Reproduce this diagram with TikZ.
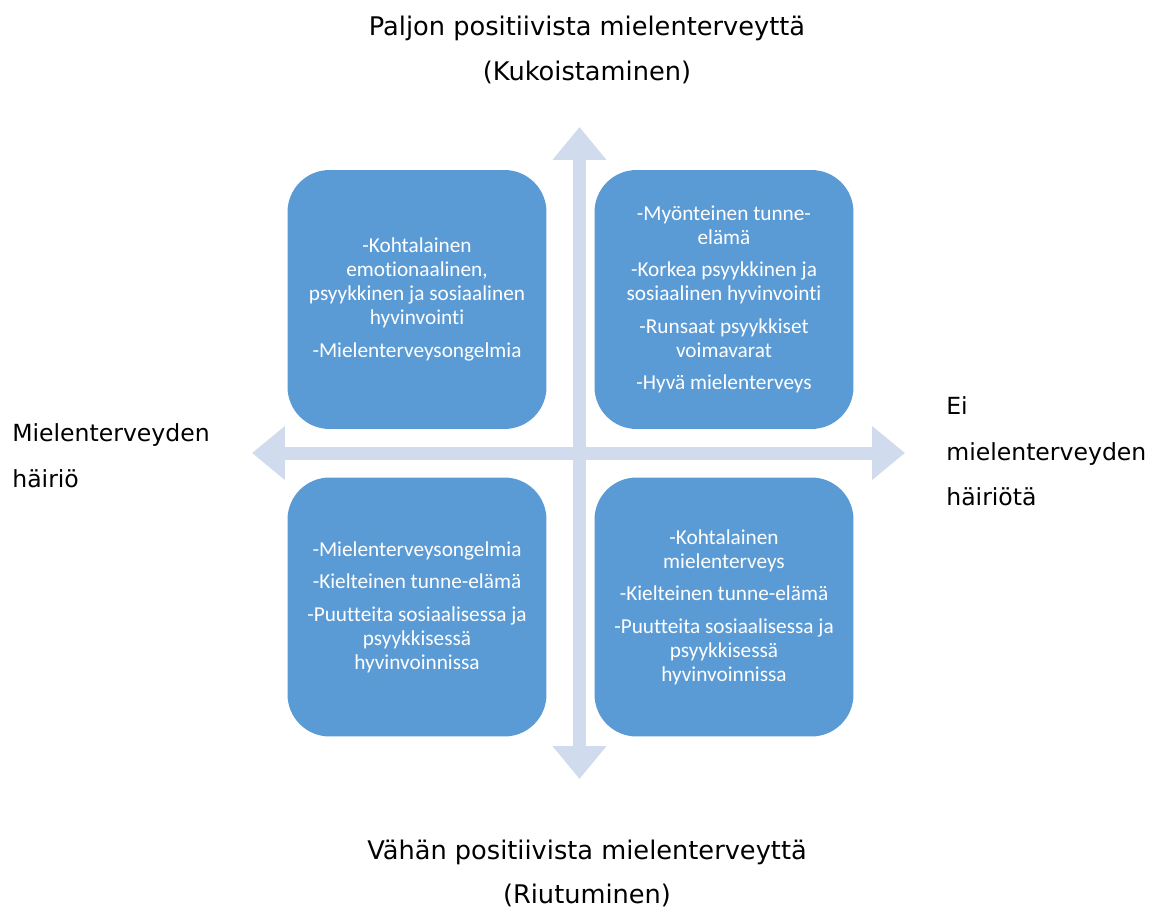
\documentclass[tikz,border=0pt]{standalone}
\usepackage{fontspec}
\setmainfont{DejaVu Sans}
\newfontfamily\boxfont[Ligatures=NoCommon]{Carlito}
\usetikzlibrary{arrows.meta,positioning}

\definecolor{quadblue}{HTML}{5B9BD5}
\definecolor{axisblue}{HTML}{D0DCEE}

\begin{document}
\begin{tikzpicture}[x=0.02cm,y=-0.02cm]
			\tikzstyle{axis}=[draw=axisblue,line width=0.26cm,{Triangle[length=0.66cm,width=1.04cm]}-{Triangle[length=0.66cm,width=1.04cm]},color=axisblue]
			\tikzstyle{quad}=[fill=quadblue,text=white,rounded corners=0.84cm,minimum width=5.18cm,minimum height=5.18cm,align=center,font=\boxfont\fontsize{12.1}{13.6}\selectfont]
			\tikzstyle{lbl}=[inner sep=0pt,font=\fontsize{13.4}{26}\selectfont]

			\useasboundingbox (0,0) rectangle (1156,909);

			\coordinate (west) at (252,453);
			\coordinate (east) at (905,453);
			\coordinate (north) at (579.5,127);
			\coordinate (south) at (579.5,779);

			\draw [axis] (west) -- (east);
			\draw [axis] (south) -- (north);

			\node (flourish) at (417,299.5) [quad] {-Kohtalainen\\emotionaalinen,\\psyykkinen ja sosiaalinen\\hyvinvointi\\[5pt]-Mielenterveysongelmia};
			\node (healthy) at (724,299.5) [quad] {-Myönteinen tunne-\\elämä\\[5pt]-Korkea psyykkinen ja\\sosiaalinen hyvinvointi\\[5pt]-Runsaat psyykkiset\\voimavarat\\[5pt]-Hyvä mielenterveys};
			\node (struggle) at (417,607) [quad] {-Mielenterveysongelmia\\[5pt]-Kielteinen tunne-elämä\\[5pt]-Puutteita sosiaalisessa ja\\psyykkisessä\\hyvinvoinnissa};
			\node (languish) at (724,607) [quad] {-Kohtalainen\\mielenterveys\\[5pt]-Kielteinen tunne-elämä\\[5pt]-Puutteita sosiaalisessa ja\\psyykkisessä\\hyvinvoinnissa};

			\node (toplbl) at (587,50) [lbl,align=center,font=\fontsize{14.6}{26}\selectfont] {Paljon positiivista mielenterveyttä\\(Kukoistaminen)};
			\node (bottomlbl) at (587,873) [lbl,align=center,font=\fontsize{14.6}{25}\selectfont] {Vähän positiivista mielenterveyttä\\(Riutuminen)};
			\node (leftlbl) at (12,455.5) [lbl,anchor=west,align=left] {Mielenterveyden\\häiriö};
			\node (rightlbl) at (946,451.5) [lbl,anchor=west,align=left] {Ei\\mielenterveyden\\häiriötä};
		\end{tikzpicture}
\end{document}
